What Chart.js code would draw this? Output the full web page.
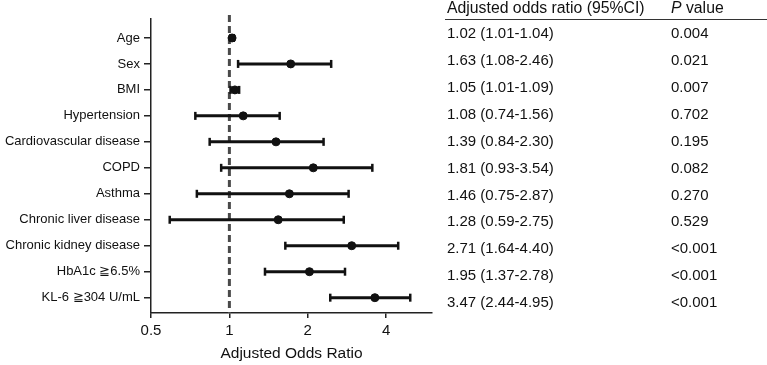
<!DOCTYPE html>
<html lang="en">

<head>
    <meta charset="UTF-8">
    <script src="https://cdn.jsdelivr.net/npm/chart.js"></script>
    <title>Forest plot</title>
    <style>
        body {
            margin: 0;
            background: #fff;
            font-family: "Liberation Sans", Arial, sans-serif;
            color: #111;
        }

        .container {
            position: relative;
            width: 767px;
            height: 365px;
        }

        .cell {
            position: absolute;
            white-space: nowrap;
            font-size: 15px;
            line-height: 20px;
        }

        .header {
            font-size: 15.8px;
        }

        .linha {
            position: absolute;
            left: 445px;
            top: 19px;
            width: 322px;
            height: 1px;
            background: #333;
        }
    </style>
</head>

<body>
    <div class="container" id="container">
        <canvas id="forestCanvas"></canvas>
        <div class="cell header" style="left:447px; top:-2px;">Adjusted odds ratio (95%CI)</div>
        <div class="cell header" style="left:671px; top:-2px;"><i>P</i> value</div>
        <div class="linha"></div>
    </div>
</body>

</html>

<script>
    // categorias (de cima para baixo)
    const categorias = ['Age', 'Sex', 'BMI', 'Hypertension', 'Cardiovascular disease', 'COPD', 'Asthma',
        'Chronic liver disease', 'Chronic kidney disease', 'HbA1c \u22676.5%', 'KL-6 \u2267304 U/mL'];

    // posicao dos pontos
    const oddsRatio = [1.024, 1.72, 1.05, 1.13, 1.51, 2.10, 1.70, 1.54, 2.95, 2.03, 3.62];
    // intervalo de confianca 95%
    const ciInferior = [1.01, 1.08, 1.01, 0.74, 0.84, 0.93, 0.75, 0.59, 1.64, 1.37, 2.44];
    const ciSuperior = [1.04, 2.46, 1.09, 1.56, 2.30, 3.54, 2.87, 2.75, 4.45, 2.78, 4.95];

    // textos da tabela da direita
    const textoOR = ['1.02 (1.01-1.04)', '1.63 (1.08-2.46)', '1.05 (1.01-1.09)', '1.08 (0.74-1.56)',
        '1.39 (0.84-2.30)', '1.81 (0.93-3.54)', '1.46 (0.75-2.87)', '1.28 (0.59-2.75)',
        '2.71 (1.64-4.40)', '1.95 (1.37-2.78)', '3.47 (2.44-4.95)'];
    const textoP = ['0.004', '0.021', '0.007', '0.702', '0.195', '0.082', '0.270', '0.529',
        '<0.001', '<0.001', '<0.001'];

    const ticksX = [0.5, 1, 2, 4];

    const yMin = -0.73;
    const yMax = 10.59;

    // montando a tabela
    const container = document.getElementById('container');
    for (let i = 0; i < textoOR.length; i++) {
        let topo = 33.3 + i * 26.87 - 10;

        let c1 = document.createElement('div');
        c1.className = 'cell';
        c1.style.left = '447px';
        c1.style.top = topo + 'px';
        c1.textContent = textoOR[i];
        container.appendChild(c1);

        let c2 = document.createElement('div');
        c2.className = 'cell';
        c2.style.left = '671px';
        c2.style.top = topo + 'px';
        c2.textContent = textoP[i];
        container.appendChild(c2);
    }

    // linha tracejada no 1 + um dataset por linha para as barras de erro
    let datasets = [];

    datasets.push({
        type: 'line',
        data: [{ x: 1, y: yMin - 0.15 }, { x: 1, y: yMax }],
        borderColor: '#4a4a4a',
        borderWidth: 3,
        borderDash: [7, 4],
        pointRadius: 0,
        clip: false,
        order: 3
    });

    for (let i = 0; i < categorias.length; i++) {
        datasets.push({
            type: 'line',
            data: [{ x: ciInferior[i], y: i }, { x: ciSuperior[i], y: i }],
            borderColor: '#111',
            borderWidth: 3,
            pointStyle: 'line',
            pointRotation: 90,
            pointRadius: 4,
            pointBorderWidth: 2.5,
            pointBorderColor: '#111',
            order: 2
        });
    }

    datasets.push({
        type: 'scatter',
        data: oddsRatio.map((v, i) => ({ x: v, y: i })),
        backgroundColor: '#111',
        borderColor: '#111',
        pointRadius: 4,
        order: 1
    });

    const config = {
        type: 'scatter',
        data: { datasets: datasets },
        options: {
            responsive: true,
            maintainAspectRatio: false,
            animation: false,
            layout: {
                padding: { left: 0, right: 335, top: 19, bottom: 0 }
            },
            plugins: {
                legend: { display: false },
                tooltip: { enabled: false }
            },
            scales: {
                x: {
                    type: 'logarithmic',
                    min: 0.5,
                    max: 6,
                    afterBuildTicks: function (axis) {
                        axis.ticks = ticksX.map(v => ({ value: v }));
                    },
                    afterFit: function (scale) {
                        scale.height = 52;
                    },
                    ticks: {
                        color: '#111',
                        font: { family: 'Liberation Sans', size: 15 },
                        padding: 4,
                        maxRotation: 0,
                        callback: v => String(v)
                    },
                    grid: {
                        drawOnChartArea: false,
                        drawTicks: true,
                        tickLength: 5,
                        color: '#222',
                        lineWidth: 1.5
                    },
                    border: { display: true, color: '#222', width: 1.5 },
                    title: {
                        display: true,
                        text: 'Adjusted Odds Ratio',
                        color: '#111',
                        font: { family: 'Liberation Sans', size: 15.5 },
                        padding: { top: 0, bottom: 2 }
                    }
                },
                y: {
                    type: 'linear',
                    reverse: true,
                    min: yMin,
                    max: yMax,
                    afterBuildTicks: function (axis) {
                        axis.ticks = categorias.map((c, i) => ({ value: i }));
                    },
                    afterFit: function (scale) {
                        scale.width = 151;
                    },
                    ticks: {
                        color: '#111',
                        font: { family: 'Liberation Sans', size: 13 },
                        padding: 4,
                        autoSkip: false,
                        callback: v => categorias[v]
                    },
                    grid: {
                        drawOnChartArea: false,
                        drawTicks: true,
                        tickLength: 7,
                        color: '#222',
                        lineWidth: 1.5
                    },
                    border: { display: true, color: '#222', width: 1.5 }
                }
            }
        }
    };

    // desenhando o grafico
    let myChart = new Chart(document.getElementById('forestCanvas'), config);
</script>
